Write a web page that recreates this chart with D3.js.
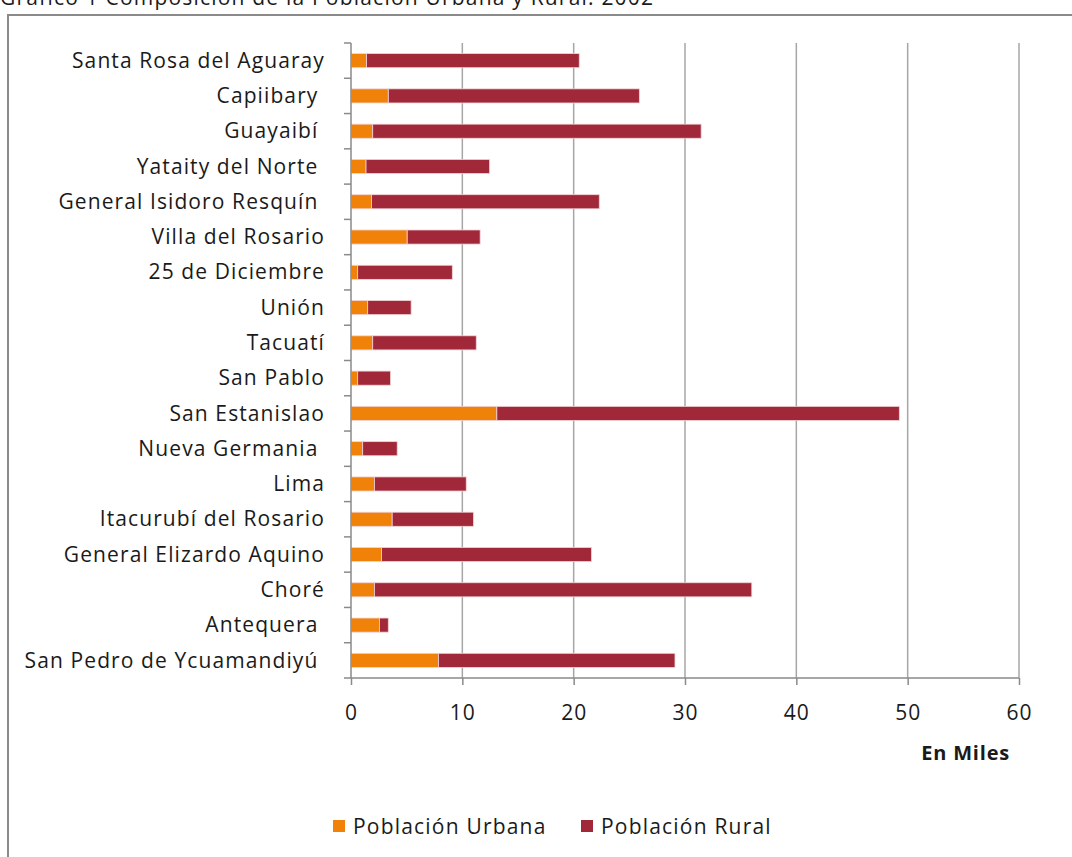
<!DOCTYPE html>
<html>
<head>
<meta charset="UTF-8">
<title>Composición de la Población Urbana y Rural</title>
<script src="https://cdn.jsdelivr.net/npm/d3@7"></script>
<style>
  body { margin: 0; background: #fff; }
  svg text { font-family: "Open Sans", sans-serif; fill: #1a1a1a; }
</style>
</head>
<body>
<div id="chart"></div>
<script>
// data (miles de habitantes)
var distritos = ["Santa Rosa del Aguaray", "Capiibary ", "Guayaibí ", "Yataity del Norte ",
  "General Isidoro Resquín ", "Villa del Rosario", "25 de Diciembre", "Unión", "Tacuatí",
  "San Pablo", "San Estanislao", "Nueva Germania ", "Lima", "Itacurubí del Rosario",
  "General Elizardo Aquino", "Choré", "Antequera ", "San Pedro de Ycuamandiyú "];
var urbana = [1.4, 3.35, 1.95, 1.35, 1.85, 5.05, 0.6, 1.5, 1.95, 0.6, 13.1, 1.05, 2.1, 3.7, 2.75, 2.1, 2.55, 7.85];
var rural  = [19.1, 22.55, 29.5, 11.1, 20.45, 6.55, 8.5, 3.9, 9.3, 2.95, 36.15, 3.1, 8.25, 7.3, 18.85, 33.9, 0.8, 21.25];
var xTicks = [0, 10, 20, 30, 40, 50, 60];
var series = ["Población Urbana", "Población Rural"];
var colores = ["#f0820a", "#a12838"];

var W = 1072, H = 857;
var plot = {left: 351, right: 1019, top: 43, bottom: 678};

var svg = d3.select("#chart").append("svg")
    .attr("width", W)
    .attr("height", H);

// title cut off at top of the picture
svg.append("text")
    .attr("x", 0).attr("y", 5)
    .style("font-size", "21px")
    .style("letter-spacing", "1.2px")
    .text("Gráfico 1  Composición de la Población Urbana y Rural. 2002");

// outer frame
svg.append("path")
    .attr("d", "M8," + (H + 5) + "V15H" + (W + 5))
    .attr("fill", "none")
    .attr("stroke", "#8a8a8a")
    .attr("stroke-width", 2);

var x = d3.scaleLinear().domain([0, 60]).range([plot.left, plot.right]);
var y = d3.scaleBand().domain(distritos).range([plot.top, plot.bottom]).paddingInner(0.6).paddingOuter(0.3);
var yb = d3.scaleBand().domain(distritos).range([plot.top, plot.bottom]);

// vertical gridlines
svg.append("g").selectAll("line")
    .data(xTicks.slice(1))
    .enter().append("line")
    .attr("x1", function (d) { return x(d); })
    .attr("x2", function (d) { return x(d); })
    .attr("y1", plot.top)
    .attr("y2", plot.bottom)
    .attr("stroke", "#a6a6a6")
    .attr("stroke-width", 1.5);

// stacked bars
var stackData = distritos.map(function (d, i) {
    return {name: d, "Población Urbana": urbana[i], "Población Rural": rural[i]};
});
var stack = d3.stack().keys(series)(stackData);

svg.append("g").selectAll("g")
    .data(stack)
    .enter().append("g")
    .attr("fill", function (d, i) { return colores[i]; })
    .selectAll("rect")
    .data(function (d) { return d; })
    .enter().append("rect")
    .attr("x", function (d) { return x(d[0]); })
    .attr("width", function (d) { return x(d[1]) - x(d[0]); })
    .attr("y", function (d) { return y(d.data.name); })
    .attr("height", y.bandwidth())
    .attr("stroke", "#f2d4d8")
    .attr("stroke-width", 0.8);

// y axis
var yAxis = svg.append("g")
    .attr("transform", "translate(" + plot.left + ",0)")
    .call(d3.axisLeft(yb).tickSize(0).tickPadding(26));
yAxis.select(".domain").attr("stroke", "#8a8a8a").attr("stroke-width", 1.5)
    .attr("d", "M0," + plot.top + "V" + plot.bottom);
yAxis.selectAll("text").style("font-size", "21px").style("letter-spacing", "1.1px")
    .style("white-space", "pre")
    .attr("fill", "#1a1a1a").attr("dy", "0.34em");
// category ticks on band edges
yAxis.append("g").selectAll("line")
    .data(distritos)
    .enter().append("line")
    .attr("x1", -7).attr("x2", 0)
    .attr("y1", function (d) { return yb(d); })
    .attr("y2", function (d) { return yb(d); })
    .attr("stroke", "#8a8a8a").attr("stroke-width", 1.5);

// x axis
var xAxis = svg.append("g")
    .attr("transform", "translate(0," + plot.bottom + ")")
    .call(d3.axisBottom(x).tickValues(xTicks).tickSize(7).tickPadding(20));
xAxis.select(".domain").attr("stroke", "#8a8a8a").attr("stroke-width", 1.5)
    .attr("d", "M" + (plot.left - 7) + ",0H" + plot.right);
xAxis.selectAll(".tick line").attr("stroke", "#8a8a8a").attr("stroke-width", 1.5);
xAxis.selectAll("text").style("font-size", "21px").style("letter-spacing", "1px")
    .attr("fill", "#1a1a1a");

svg.append("text")
    .attr("x", 1010).attr("y", 760)
    .attr("text-anchor", "end")
    .style("font-size", "20px")
    .style("letter-spacing", "0.8px")
    .style("font-weight", "bold")
    .text("En Miles");

// legend
var legendX = [333, 581];
var legend = svg.append("g").selectAll("g")
    .data(series)
    .enter().append("g")
    .attr("transform", function (d, i) { return "translate(" + legendX[i] + ",820)"; });
legend.append("rect")
    .attr("width", 12).attr("height", 12)
    .attr("fill", function (d, i) { return colores[i]; });
legend.append("text")
    .attr("x", 20).attr("y", 6).attr("dy", "0.36em")
    .style("font-size", "21px")
    .style("letter-spacing", "1.2px")
    .text(function (d) { return d; });
</script>
</body>
</html>
